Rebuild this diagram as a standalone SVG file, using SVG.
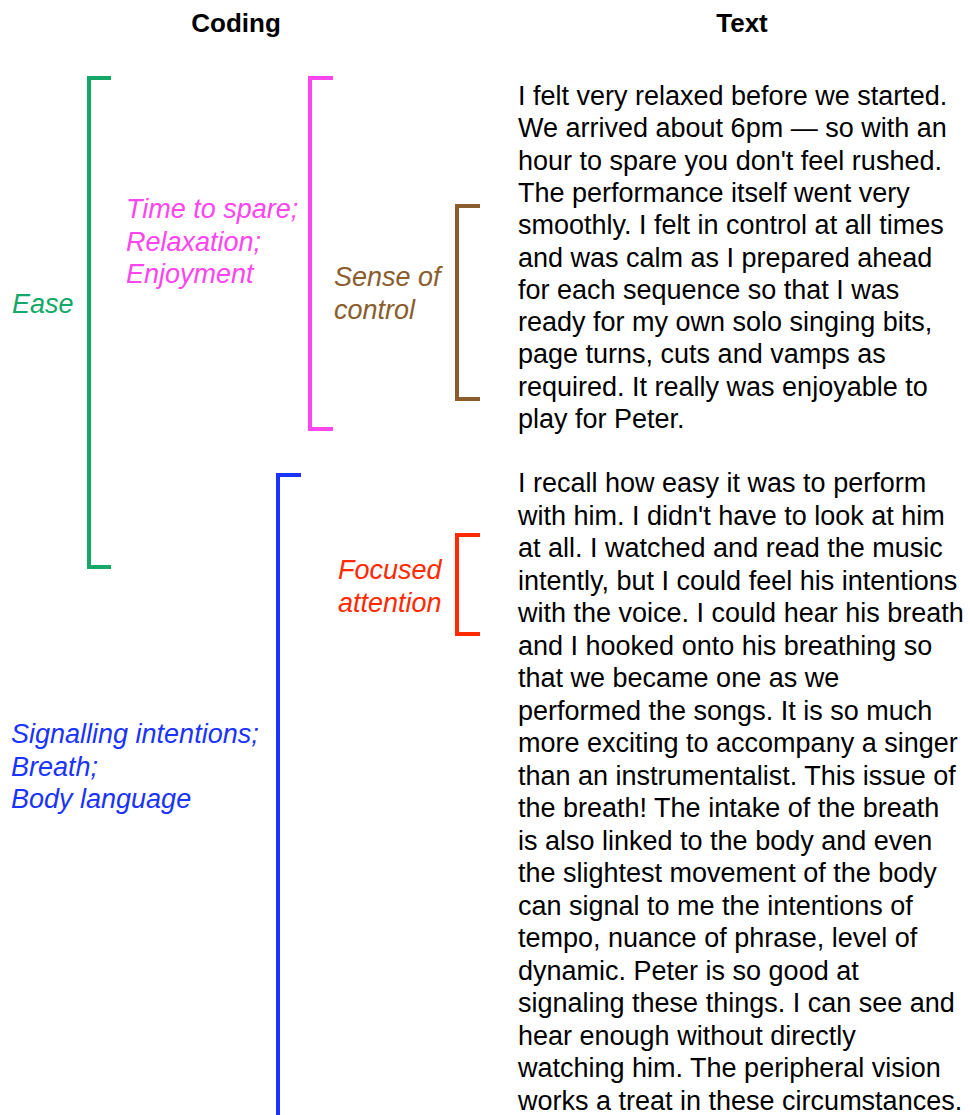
<svg xmlns="http://www.w3.org/2000/svg" width="970" height="1115" viewBox="0 0 970 1115">
<style>
.hdr{font-family:"Liberation Sans",Arial,sans-serif;font-weight:bold;font-size:26px;fill:#000;text-anchor:middle}
.body{font-family:"Liberation Sans",Arial,sans-serif;font-size:27px;fill:#000}
.lab{font-family:"Liberation Sans",Arial,sans-serif;font-size:27px;font-style:italic}
.br{fill:none;stroke-width:4;stroke-linejoin:miter;stroke-linecap:butt}
</style>
<rect width="970" height="1115" fill="#fff"/>
<g id="headers">
<text class="hdr" x="236" y="32">Coding</text>
<text class="hdr" x="742" y="32">Text</text>
</g>
<g id="connectors">
<path class="br" stroke="#13a867" d="M111,78 H89 V567 H111"/>
<path class="br" stroke="#ff45ee" d="M333,78 H310 V429 H333"/>
<path class="br" stroke="#8b5d2e" d="M480,206 H457 V399 H480"/>
<path class="br" stroke="#1a33ff" d="M301,475 H278 V1115"/>
<path class="br" stroke="#ff2a00" d="M480,535 H457 V634 H480"/>
</g>
<g id="code-ease">
<text class="lab" fill="#13a867" x="12" y="313">Ease</text>
</g>
<g id="code-time">
<text class="lab" fill="#ff45ee"><tspan x="126" y="218">Time to spare;</tspan><tspan x="126" y="250.5">Relaxation;</tspan><tspan x="126" y="283">Enjoyment</tspan></text>
</g>
<g id="code-control">
<text class="lab" fill="#8b5d2e"><tspan x="334" y="286">Sense of</tspan><tspan x="334" y="318.5">control</tspan></text>
</g>
<g id="code-attention">
<text class="lab" fill="#ff2a00"><tspan x="338" y="579">Focused</tspan><tspan x="338" y="611.5">attention</tspan></text>
</g>
<g id="code-signal">
<text class="lab" fill="#1a33ff"><tspan x="11" y="743">Signalling intentions;</tspan><tspan x="11" y="775.5">Breath;</tspan><tspan x="11" y="808">Body language</tspan></text>
</g>
<g id="text-1">
<text class="body">
<tspan x="518" y="105">I felt very relaxed before we started.</tspan>
<tspan x="518" y="137.3">We arrived about 6pm — so with an</tspan>
<tspan x="518" y="169.6">hour to spare you don't feel rushed.</tspan>
<tspan x="518" y="201.9">The performance itself went very</tspan>
<tspan x="518" y="234.2">smoothly. I felt in control at all times</tspan>
<tspan x="518" y="266.5">and was calm as I prepared ahead</tspan>
<tspan x="518" y="298.8">for each sequence so that I was</tspan>
<tspan x="518" y="331.1">ready for my own solo singing bits,</tspan>
<tspan x="518" y="363.4">page turns, cuts and vamps as</tspan>
<tspan x="518" y="395.7">required. It really was enjoyable to</tspan>
<tspan x="518" y="428">play for Peter.</tspan>
</text>
</g>
<g id="text-2">
<text class="body">
<tspan x="518" y="492">I recall how easy it was to perform</tspan>
<tspan x="518" y="524.5">with him. I didn't have to look at him</tspan>
<tspan x="518" y="557">at all. I watched and read the music</tspan>
<tspan x="518" y="589.5">intently, but I could feel his intentions</tspan>
<tspan x="518" y="622">with the voice. I could hear his breath</tspan>
<tspan x="518" y="654.5">and I hooked onto his breathing so</tspan>
<tspan x="518" y="687">that we became one as we</tspan>
<tspan x="518" y="719.5">performed the songs. It is so much</tspan>
<tspan x="518" y="752">more exciting to accompany a singer</tspan>
<tspan x="518" y="784.5">than an instrumentalist. This issue of</tspan>
<tspan x="518" y="817">the breath! The intake of the breath</tspan>
<tspan x="518" y="849.5">is also linked to the body and even</tspan>
<tspan x="518" y="882">the slightest movement of the body</tspan>
<tspan x="518" y="914.5">can signal to me the intentions of</tspan>
<tspan x="518" y="947">tempo, nuance of phrase, level of</tspan>
<tspan x="518" y="979.5">dynamic. Peter is so good at</tspan>
<tspan x="518" y="1012">signaling these things. I can see and</tspan>
<tspan x="518" y="1044.5">hear enough without directly</tspan>
<tspan x="518" y="1077">watching him. The peripheral vision</tspan>
<tspan x="518" y="1109.5">works a treat in these circumstances.</tspan>
</text>
</g>
</svg>
